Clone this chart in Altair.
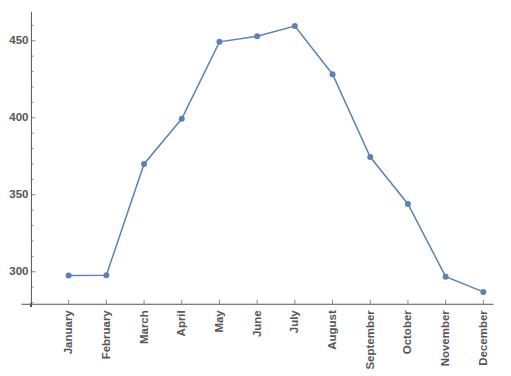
import altair as alt
import pandas as pd

months = ["January", "February", "March", "April", "May", "June",
          "July", "August", "September", "October", "November", "December"]
values = [297.6, 297.8, 370.0, 399.3, 449.3, 453.0, 459.6, 428.3, 374.5, 344.0, 296.8, 286.9]
major_y = [300, 350, 400, 450]
minor_y = [280, 290, 310, 320, 330, 340, 360, 370, 380, 390, 410, 420, 430, 440, 460]

LINE = "#5E81B5"
AX = "#555555"
W, H = 473, 293
OFF = 10  # y-axis position from plot left

df = pd.DataFrame({"idx": list(range(1, 13)), "month": months, "value": values})
dmaj = pd.DataFrame({"v": major_y})
dmin = pd.DataFrame({"v": minor_y})

xscale = alt.Scale(domain=[-0.265, 12.257], nice=False, zero=False)
yscale = alt.Scale(domain=[279.2, 469.1], nice=False, zero=False)

label_expr = "[" + ",".join(f"'{m}'" for m in months) + "][datum.value-1]"

xaxis = alt.Axis(values=list(range(1, 13)), labelExpr=label_expr,
                 labelAngle=270, labelAlign="right", labelBaseline="middle",
                 labelPadding=6, ticks=False, tickSize=0, grid=False,
                 domainColor=AX, domainWidth=1,
                 labelFont="Liberation Sans", labelFontWeight="bold",
                 labelFontSize=11.5, labelColor=AX, labelOverlap=False)
yaxis = alt.Axis(values=major_y, offset=-OFF, ticks=False, tickSize=0,
                 labelPadding=3, grid=False, domainColor=AX, domainWidth=1,
                 labelFont="Liberation Sans", labelFontWeight="bold",
                 labelFontSize=11.5, labelColor=AX)

base = alt.Chart(df)

line = base.mark_line(color=LINE, strokeWidth=1.5).encode(
    x=alt.X("idx:Q", scale=xscale, title=None, axis=xaxis),
    y=alt.Y("value:Q", scale=yscale, title=None, axis=yaxis),
)

points = base.mark_circle(color=LINE, size=36, opacity=1).encode(
    x=alt.X("idx:Q", scale=xscale, title=None, axis=xaxis),
    y=alt.Y("value:Q", scale=yscale, title=None, axis=yaxis),
)

xticks = base.mark_tick(color=AX, orient="vertical", size=4, thickness=1).encode(
    x=alt.X("idx:Q", scale=xscale, title=None, axis=xaxis),
    y=alt.value(H - 2),
)

ymaj = alt.Chart(dmaj).mark_tick(color=AX, orient="horizontal", size=4.5, thickness=1).encode(
    y=alt.Y("v:Q", scale=yscale, title=None, axis=yaxis),
    x=alt.value(OFF + 2.25),
)

ymin = alt.Chart(dmin).mark_tick(color=AX, orient="horizontal", size=2.5, thickness=1).encode(
    y=alt.Y("v:Q", scale=yscale, title=None, axis=yaxis),
    x=alt.value(OFF + 1.25),
)

ext = alt.Chart(df).mark_rule(color=AX, strokeWidth=1).encode(
    x=alt.value(OFF), y=alt.value(H), y2=alt.value(H + 3)
)

chart = alt.layer(line, points, xticks, ymaj, ymin, ext).properties(
    width=W, height=H,
    padding={"left": 13, "top": 3, "right": 10, "bottom": 72},
    autosize=alt.AutoSizeParams(type="none"),
).configure_view(stroke=None)

chart.save("out.html", embed_options={"renderer": "svg", "actions": False})
